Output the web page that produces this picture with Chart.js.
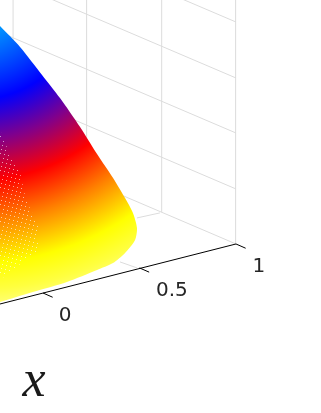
<!DOCTYPE html>
<html><head><meta charset="utf-8">
<style>html,body{margin:0;padding:0;background:#fff}canvas{display:block}</style>
<script src="https://cdn.jsdelivr.net/npm/chart.js@4"></script></head>
<body><canvas id="c" width="321" height="413"></canvas>
<script>
// Projected chart units: 1 unit along the horizontal is the width of the x axis from 0 to 1.
const xTickValues=[0,0.5,1];
const xTickLabels=['0','0.5','1'];
const xTickHeights=[0,0.13,0.254];
const axisLine=[[-0.223,-0.057],[1,0.254]];
const wallVerticalsU=[-0.155,0.226,0.615,0.998];
const zLevelsRight=[1.404,1.114,0.829,0.539,0.254];
const floorLine1=[[0.399,0.161],[0.487,0.130]];
const floorLine2=[[0.487,0.389],[0.606,0.415]];
const surfaceOutline=[[-0.223,1.383],[-0.119,1.275],[-0.005,1.13],[0.088,1.01],[0.192,0.86],[0.28,0.72],[0.363,0.596],[0.425,0.492],[0.466,0.415],[0.487,0.337],[0.477,0.275],[0.425,0.207],[0.363,0.155],[0.28,0.119],[0.124,0.057],[-0.052,0.005],[-0.223,-0.047]];
const speckleRegion=[[-0.223,0.845],[-0.181,0.741],[-0.119,0.627],[-0.088,0.482],[-0.026,0.352],[-0.026,0.223],[-0.223,0.067]];

const uPerPx=1/193, x0Px=43, y0Px=293;
const uMin=-x0Px*uPerPx, uMax=(321-x0Px)*uPerPx, vMin=(y0Px-413)*uPerPx, vMax=y0Px*uPerPx;
const pts=a=>a.map(p=>({x:p[0],y:p[1]}));
const slope=0.427;
const gridC='#dcdcdc';
const datasets=[];
const line=(a,c,w,o)=>datasets.push({type:'scatter',showLine:true,order:o,data:pts(a),borderColor:c,borderWidth:w,pointRadius:0,fill:false,tension:0});
zLevelsRight.forEach(v=>line([[1,v],[1-1.3,v+1.3*slope]],gridC,1,10));
wallVerticalsU.forEach(u=>{const base=0.254+(1-u)*slope;line([[u,base],[u,2]],gridC,1,10);});
line(floorLine1,gridC,1,10);line(floorLine2,gridC,1,10);
function surfGrad(ctx){
  const g=ctx.chart.ctx.createRadialGradient(-27,-17,0,-27,-17,330);
  [[0,'#00e0ff'],[0.155,'#0096ff'],[0.355,'#0000ff'],[0.476,'#80008c'],[0.6,'#ff0000'],[0.72,'#ff8000'],[0.85,'#ffff00'],[0.93,'#ffff40'],[1,'#ffff90']].forEach(s=>g.addColorStop(s[0],s[1]));
  return g;
}
datasets.push({type:'scatter',showLine:true,order:5,data:pts(surfaceOutline),borderColor:'rgba(0,0,0,0)',borderWidth:0,pointRadius:0,fill:'shape',backgroundColor:surfGrad,tension:0.25});
function speckle(ctx){
  const n=17,t=document.createElement('canvas');t.width=n;t.height=n;const c=t.getContext('2d');
  c.fillStyle='rgba(255,255,255,0.6)';
  for(let i=0;i<n;i++)c.fillRect((i*4)%n,i,1,1);
  return ctx.chart.ctx.createPattern(t,'repeat');
}
datasets.push({type:'scatter',showLine:true,order:4,data:pts(speckleRegion),borderColor:'rgba(0,0,0,0)',borderWidth:0,pointRadius:0,fill:'shape',backgroundColor:speckle,tension:0});
line(axisLine,'#000',1,1);
xTickValues.forEach((u,i)=>line([[u,xTickHeights[i]],[u+0.05,xTickHeights[i]-0.022]],'#000',1,1));
const textPlugin={id:'t',afterDatasetsDraw(ch){
  const c=ch.ctx,X=ch.scales.x,Y=ch.scales.y;c.save();c.textAlign='center';c.textBaseline='middle';
  c.fillStyle='#262626';c.font='20px "DejaVu Sans"';
  const off=[0.114,0.168,0.119];
  xTickValues.forEach((u,i)=>c.fillText(xTickLabels[i],X.getPixelForValue(u+off[i]),Y.getPixelForValue(xTickHeights[i]-0.116)));
  c.fillStyle='#1a1a1a';c.font='italic 52px "Liberation Serif"';
  c.fillText('x',X.getPixelForValue(-0.047),Y.getPixelForValue(-0.465));
  c.restore();
}};
new Chart(document.getElementById('c'),{type:'scatter',data:{datasets},plugins:[textPlugin],options:{
  responsive:false,animation:false,
  layout:{padding:0},
  plugins:{legend:{display:false},tooltip:{enabled:false}},
  scales:{x:{type:'linear',display:false,min:uMin,max:uMax},y:{type:'linear',display:false,min:vMin,max:vMax}}
}});
</script></body></html>
